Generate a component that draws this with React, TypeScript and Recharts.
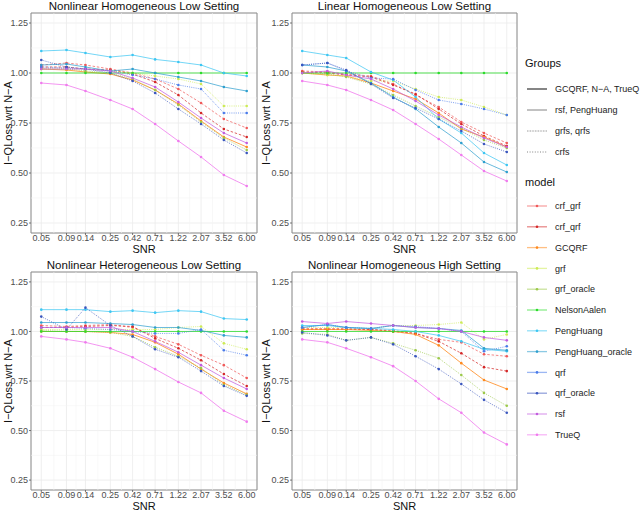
import React from 'react';
import { LineChart, Line, XAxis, YAxis, CartesianGrid, ReferenceLine, ReferenceArea } from 'recharts';

const SNR = [0.05, 0.09, 0.14, 0.25, 0.42, 0.71, 1.22, 2.07, 3.52, 6.0];
const Y_TICKS = [0.25, 0.5, 0.75, 1.0, 1.25];
const Y_MINOR = [0.375, 0.625, 0.875, 1.125];
const Y_DOMAIN = [0.2, 1.3];

const MODELS = ['crf_grf', 'crf_qrf', 'GCQRF', 'grf', 'grf_oracle', 'NelsonAalen', 'PengHuang', 'PengHuang_oracle', 'qrf', 'qrf_oracle', 'rsf', 'TrueQ'];
const COLORS = ['#F05A5A', '#D42828', '#FF8A1E', '#CDEB55', '#9CC94A', '#2CDC2C', '#3CC6F2', '#2E9FCE', '#4A7BEA', '#3A56BE', '#C25CDE', '#F07AEE'];
const MODEL_GROUP = ['crfs', 'crfs', 'solid', 'grfs', 'grfs', 'solid', 'thin', 'thin', 'grfs', 'grfs', 'thin', 'solid'];
const GROUP_LABELS = ['GCQRF, N\u2212A, TrueQ', 'rsf, PengHuang', 'grfs, qrfs', 'crfs'];
const GROUP_KEYS = ['solid', 'thin', 'grfs', 'crfs'];

const TITLES = ['Nonlinear Homogeneous Low Setting', 'Linear Homogeneous Low Setting', 'Nonlinear Heterogeneous Low Setting', 'Nonlinear Homogeneous High Setting'];

const NHL: Record<string, number[]> = {
  crf_grf: [1.04, 1.05, 1.04, 1.02, 1.0, 0.97, 0.92, 0.85, 0.77, 0.725],
  crf_qrf: [1.03, 1.03, 1.02, 1.015, 0.995, 0.955, 0.89, 0.8, 0.72, 0.68],
  GCQRF: [1.02, 1.015, 1.005, 0.995, 0.965, 0.915, 0.845, 0.76, 0.68, 0.63],
  grf: [1.02, 1.02, 1.02, 1.01, 1.0, 0.985, 0.97, 0.945, 0.835, 0.835],
  grf_oracle: [1.02, 1.02, 1.01, 1.0, 0.97, 0.915, 0.84, 0.755, 0.675, 0.615],
  NelsonAalen: [1, 1, 1, 1, 1, 1, 1, 1, 1, 1],
  PengHuang: [1.11, 1.115, 1.1, 1.08, 1.09, 1.068, 1.055, 1.04, 1.0, 0.985],
  PengHuang_oracle: [1.04, 1.045, 1.03, 1.01, 1.02, 1.0, 0.98, 0.96, 0.93, 0.91],
  qrf: [1.03, 1.025, 1.02, 1.01, 0.99, 0.97, 0.94, 0.92, 0.8, 0.8],
  qrf_oracle: [1.065, 1.03, 1.02, 1.0, 0.96, 0.9, 0.82, 0.745, 0.665, 0.6],
  rsf: [1.02, 1.02, 1.02, 1.01, 0.975, 0.93, 0.855, 0.775, 0.7, 0.65],
  TrueQ: [0.95, 0.94, 0.91, 0.865, 0.82, 0.745, 0.66, 0.58, 0.49, 0.435],
};

const LHL: Record<string, number[]> = {
  crf_grf: [1.01, 1.005, 0.995, 0.985, 0.945, 0.89, 0.83, 0.755, 0.7, 0.65],
  crf_qrf: [1.005, 1.0, 0.99, 0.98, 0.94, 0.895, 0.82, 0.745, 0.685, 0.635],
  GCQRF: [1.0, 0.99, 0.985, 0.95, 0.91, 0.87, 0.8, 0.72, 0.68, 0.63],
  grf: [1.0, 0.99, 0.985, 0.96, 0.96, 0.92, 0.88, 0.865, 0.83, 0.79],
  grf_oracle: [1.0, 0.995, 0.98, 0.945, 0.89, 0.835, 0.78, 0.725, 0.665, 0.625],
  NelsonAalen: [1, 1, 1, 1, 1, 1, 1, 1, 1, 1],
  PengHuang: [1.11, 1.09, 1.075, 1.005, 0.965, 0.88, 0.77, 0.7, 0.6, 0.54],
  PengHuang_oracle: [1.04, 1.03, 1.01, 0.95, 0.88, 0.82, 0.73, 0.65, 0.555, 0.505],
  qrf: [1.04, 1.05, 1.01, 0.975, 0.97, 0.915, 0.865, 0.845, 0.82, 0.79],
  qrf_oracle: [1.04, 1.05, 1.015, 0.945, 0.875, 0.825, 0.77, 0.71, 0.645, 0.605],
  rsf: [1.0, 1.01, 0.99, 0.97, 0.92, 0.86, 0.79, 0.73, 0.675, 0.63],
  TrueQ: [0.96, 0.94, 0.915, 0.865, 0.815, 0.745, 0.67, 0.59, 0.51, 0.46],
};

const NHetL: Record<string, number[]> = {
  crf_grf: [1.03, 1.025, 1.03, 1.035, 1.02, 0.975, 0.935, 0.88, 0.83, 0.765],
  crf_qrf: [1.02, 1.02, 1.025, 1.03, 1.025, 0.965, 0.915, 0.855, 0.785, 0.725],
  GCQRF: [1.0, 1.0, 1.0, 0.995, 0.985, 0.945, 0.885, 0.81, 0.74, 0.685],
  grf: [1.01, 1.01, 1.01, 1.01, 1.01, 1.01, 1.02, 1.025, 0.94, 0.91],
  grf_oracle: [1.005, 1.0, 1.0, 0.995, 0.975, 0.92, 0.875, 0.815, 0.73, 0.68],
  NelsonAalen: [1, 1, 1, 1, 1, 1, 1, 1, 1, 1],
  PengHuang: [1.11, 1.11, 1.11, 1.1, 1.105, 1.095, 1.105, 1.1, 1.065, 1.06],
  PengHuang_oracle: [1.045, 1.045, 1.045, 1.04, 1.035, 1.02, 1.02, 1.005, 0.98, 0.97],
  qrf: [1.02, 1.02, 1.015, 1.01, 1.0, 0.99, 0.99, 1.01, 0.905, 0.88],
  qrf_oracle: [1.075, 1.01, 1.12, 1.03, 0.975, 0.91, 0.87, 0.8, 0.725, 0.675],
  rsf: [1.02, 1.02, 1.02, 1.02, 1.0, 0.95, 0.895, 0.83, 0.765, 0.71],
  TrueQ: [0.975, 0.96, 0.945, 0.915, 0.87, 0.81, 0.745, 0.69, 0.6, 0.545],
};

const NHH: Record<string, number[]> = {
  crf_grf: [1.015, 1.015, 1.015, 1.01, 1.005, 0.99, 0.96, 0.945, 0.885, 0.875],
  crf_qrf: [1.01, 1.01, 1.01, 1.01, 1.0, 0.99, 0.95, 0.89, 0.82, 0.8],
  GCQRF: [1.01, 1.01, 1.01, 1.005, 1.0, 0.985, 0.93, 0.84, 0.755, 0.71],
  grf: [1.02, 1.02, 1.02, 1.015, 1.03, 1.03, 1.035, 1.045, 0.96, 0.985],
  grf_oracle: [0.99, 0.985, 0.955, 0.97, 0.94, 0.905, 0.865, 0.78, 0.69, 0.625],
  NelsonAalen: [1, 1, 1, 1, 1, 1, 1, 1, 1, 1],
  PengHuang: [1.03, 1.03, 1.02, 1.015, 1.01, 1.0, 0.98, 0.95, 0.91, 0.9],
  PengHuang_oracle: [1.02, 1.035, 1.02, 1.015, 1.03, 1.02, 1.015, 1.005, 0.915, 0.905],
  qrf: [1.02, 1.035, 1.02, 1.015, 1.03, 1.025, 1.015, 1.0, 0.9, 0.925],
  qrf_oracle: [0.995, 0.98, 0.955, 0.97, 0.935, 0.875, 0.81, 0.735, 0.655, 0.59],
  rsf: [1.05, 1.04, 1.05, 1.04, 1.03, 1.02, 1.015, 1.0, 0.97, 0.955],
  TrueQ: [0.96, 0.945, 0.915, 0.87, 0.825, 0.75, 0.66, 0.59, 0.49, 0.43],
};

const PANEL_DATA = [NHL, LHL, NHetL, NHH];
const PANEL_POS = [
  { left: 31, top: 13, w: 226, h: 220, yLab: 23 },
  { left: 292, top: 13, w: 225, h: 220, yLab: 26 },
  { left: 31, top: 272, w: 226, h: 218, yLab: 23 },
  { left: 292, top: 272, w: 225, h: 218, yLab: 26 },
];

const FONT = '"Liberation Sans", Arial, Helvetica, sans-serif';
const logLo = Math.log(SNR[0]);
const logHi = Math.log(SNR[SNR.length - 1]);
const expand = (logHi - logLo) * 0.05;
const X_DOMAIN = [Math.exp(logLo - expand), Math.exp(logHi + expand)];
const X_MINOR = SNR.slice(1).map((v, i) => Math.sqrt(v * SNR[i]));

const dashFor = (g: string) => (g === 'grfs' ? '1 1.2' : g === 'crfs' ? '2.5 1.8' : undefined);
const widthFor = (g: string) => (g === 'solid' ? 1 : 0.9);

function Panel({ idx }: { idx: number }) {
  const pos = PANEL_POS[idx];
  const src = PANEL_DATA[idx];
  const data = SNR.map((s, i) => {
    const row: Record<string, number> = { snr: s };
    MODELS.forEach((m) => (row[m] = src[m][i]));
    return row;
  });
  const mL = 2, yW = 26, mT = 5, mR = 5, xH = 18;
  const cw = pos.w + mL + yW + mR;
  const ch = pos.h + mT + xH;
  return (
    <>
      <div style={{ position: 'absolute', left: pos.left, width: pos.w, top: pos.top - 13, height: 12, lineHeight: '12px', fontSize: 11.5, textAlign: 'center', color: '#111', fontFamily: FONT, whiteSpace: 'nowrap' }}>
        {TITLES[idx]}
      </div>
      <div style={{ position: 'absolute', left: pos.left, width: pos.w, top: pos.top + pos.h + 11, height: 11, lineHeight: '11px', fontSize: 11, textAlign: 'center', color: '#111', fontFamily: FONT }}>
        SNR
      </div>
      <div style={{ position: 'absolute', left: pos.left - pos.yLab - pos.h / 2, width: pos.h, top: pos.top + pos.h / 2 - 6, height: 12, lineHeight: '12px', fontSize: 11, textAlign: 'center', color: '#111', fontFamily: FONT, transform: 'rotate(-90deg)', whiteSpace: 'nowrap' }}>
        I{'\u2212'}QLoss wrt N{'\u2212'}A
      </div>
      <div style={{ position: 'absolute', left: pos.left - mL - yW, top: pos.top - mT }}>
        <LineChart width={cw} height={ch} data={data} margin={{ top: mT, right: mR, left: mL, bottom: 0 }}>
          {X_MINOR.map((v) => (
            <ReferenceLine key={'xm' + v} x={v} stroke="#F4F4F4" strokeWidth={0.6} ifOverflow="hidden" />
          ))}
          {Y_MINOR.map((v) => (
            <ReferenceLine key={'ym' + v} y={v} stroke="#F4F4F4" strokeWidth={0.6} ifOverflow="hidden" />
          ))}
          <CartesianGrid stroke="#EBEBEB" strokeWidth={0.8} />
          <XAxis
            dataKey="snr"
            type="number"
            scale="log"
            domain={X_DOMAIN}
            allowDataOverflow
            ticks={SNR}
            interval={0}
            height={xH}
            tickFormatter={(v: number) => v.toFixed(2)}
            axisLine={false}
            tickSize={2}
            tickMargin={0}
            tickLine={{ stroke: '#555', strokeWidth: 0.8 }}
            tick={{ fontSize: 9, fill: '#4D4D4D', fontFamily: FONT }}
          />
          <YAxis
            type="number"
            domain={Y_DOMAIN}
            allowDataOverflow
            ticks={Y_TICKS}
            interval={0}
            width={yW}
            tickFormatter={(v: number) => v.toFixed(2)}
            axisLine={false}
            tickSize={2}
            tickMargin={1}
            tickLine={{ stroke: '#555', strokeWidth: 0.8 }}
            tick={{ fontSize: 9, fill: '#4D4D4D', fontFamily: FONT }}
          />
          <ReferenceArea x1={X_DOMAIN[0]} x2={X_DOMAIN[1]} y1={Y_DOMAIN[0]} y2={Y_DOMAIN[1]} fill="none" fillOpacity={0} stroke="#8C8C8C" strokeWidth={1} ifOverflow="visible" />
          {MODELS.map((m, i) => (
            <Line
              key={m}
              dataKey={m}
              type="linear"
              stroke={COLORS[i]}
              strokeOpacity={0.8}
              strokeWidth={widthFor(MODEL_GROUP[i])}
              strokeDasharray={dashFor(MODEL_GROUP[i])}
              dot={{ r: 1.3, fill: COLORS[i], stroke: 'none', strokeWidth: 0, strokeDasharray: '' }}
              activeDot={false}
              isAnimationActive={false}
            />
          ))}
        </LineChart>
      </div>
    </>
  );
}

function LegendBox() {
  const groupY = [89, 110, 131, 152];
  const modelY0 = 206;
  const modelStep = 20.8;
  return (
    <svg style={{ position: 'absolute', left: 0, top: 0 }} width={640} height={511}>
      <text x={525} y={67} fontSize={11} fill="#111" fontFamily={FONT}>Groups</text>
      {GROUP_KEYS.map((g, i) => (
        <g key={g}>
          <line x1={527} x2={547} y1={groupY[i]} y2={groupY[i]} stroke={g === 'solid' ? '#333' : '#666'} strokeWidth={g === 'solid' ? 1.2 : 0.8} strokeDasharray={g === 'grfs' ? '0.8 0.8' : g === 'crfs' ? '1 1.6' : undefined} />
          <text x={555} y={groupY[i] + 3.2} fontSize={9} fill="#222" fontFamily={FONT}>{GROUP_LABELS[i]}</text>
        </g>
      ))}
      <text x={525} y={186} fontSize={11} fill="#111" fontFamily={FONT}>model</text>
      {MODELS.map((m, i) => {
        const y = modelY0 + i * modelStep;
        return (
          <g key={m}>
            <line x1={527} x2={547} y1={y} y2={y} stroke={COLORS[i]} strokeOpacity={0.55} strokeWidth={1.3} />
            <circle cx={537} cy={y} r={1.3} fill={COLORS[i]} />
            <text x={555} y={y + 3.2} fontSize={9} fill="#222" fontFamily={FONT}>{m}</text>
          </g>
        );
      })}
    </svg>
  );
}

export default function App() {
  return (
    <div style={{ position: 'absolute', left: 0, top: 0, width: 640, height: 511, background: '#fff', fontFamily: FONT, overflow: 'hidden' }}>
      <LegendBox />
      {[0, 1, 2, 3].map((i) => (
        <Panel key={i} idx={i} />
      ))}
    </div>
  );
}
